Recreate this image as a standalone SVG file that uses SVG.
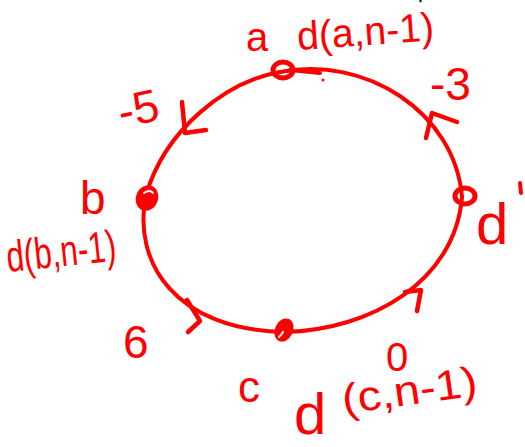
<svg xmlns="http://www.w3.org/2000/svg" width="525" height="447" viewBox="0 0 525 447">
<style>
.e{fill:none;stroke:#f00;stroke-width:4;stroke-linecap:round;stroke-linejoin:round}
.h{fill:none;stroke:#f00;stroke-width:4.5;stroke-linecap:round;stroke-linejoin:round}
.t{fill:#f00;font-family:"Liberation Sans",Arial,sans-serif}
.ring{fill:none;stroke:#f00;stroke-width:5}
.dot{fill:#f00}
.hi{fill:none;stroke:#fff;stroke-width:2;stroke-linecap:round}
</style>
<rect width="525" height="447" fill="#fff"/>
<line x1="420" y1="0" x2="421" y2="2" stroke="#000" stroke-width="2"/>
<g id="connectors">
  <g id="edge-a-b">
    <path class="e" d="M280,72 C225,82 165,130 146,195"/>
    <polyline class="h" points="182,102 185,133 206,130"/>
    <text class="t" x="118" y="124" font-size="46" transform="rotate(-12 140 110)">-5</text>
  </g>
  <g id="edge-b-c">
    <path class="e" d="M146,195 C132,262 175,330 285,332"/>
    <polyline class="h" points="187,300 200,321 188,332"/>
    <text class="t" x="123" y="358" font-size="46">6</text>
  </g>
  <g id="edge-c-d">
    <path class="e" d="M285,332 C370,330 455,282 462,197"/>
    <polyline class="h" points="405,292 421,290 417,311"/>
    <text class="t" x="386" y="371" font-size="40">0</text>
  </g>
  <g id="edge-d-a">
    <path class="e" d="M462,197 C455,112 365,55 280,72"/>
    <polyline class="h" points="426,138 432,113 457,122"/>
    <text class="t" x="430" y="100" font-size="46">-3</text>
  </g>
</g>
<g id="node-a">
  <ellipse class="ring" cx="283" cy="70" rx="10" ry="8"/>
  <path class="e" d="M290,70 L320,73"/>
  <circle class="dot" cx="323" cy="80" r="1.5"/>
  <text class="t" x="246" y="51" font-size="40">a</text>
  <text class="t" x="298" y="50" font-size="40" textLength="137" lengthAdjust="spacingAndGlyphs" transform="rotate(-4 298 50)">d(a,n-1)</text>
</g>
<g id="node-b">
  <ellipse class="dot" cx="147" cy="198" rx="11" ry="13" transform="rotate(20 147 198)"/>
  <path class="hi" d="M144,193 Q150,189 153,193"/>
  <text class="t" x="80" y="214" font-size="46">b</text>
  <text class="t" x="8" y="272" font-size="44" textLength="110" lengthAdjust="spacingAndGlyphs" transform="rotate(-6 8 272)">d(b,n-1)</text>
</g>
<g id="node-c">
  <ellipse class="dot" cx="284" cy="330" rx="9" ry="12" transform="rotate(25 284 330)"/>
  <path class="hi" d="M279,337 Q282,334 283,332"/>
  <text class="t" x="238" y="402" font-size="44">c</text>
  <text class="t" x="294" y="434" font-size="58">d</text>
  <text class="t" x="344" y="414" font-size="42" textLength="136" lengthAdjust="spacingAndGlyphs" transform="rotate(-8 344 414)">(c,n-1)</text>
</g>
<g id="node-d">
  <ellipse class="ring" cx="465" cy="196" rx="10" ry="8"/>
  <text class="t" x="476" y="244" font-size="58">d</text>
  <path class="e" d="M520,183 L521,193"/>
</g>
</svg>
